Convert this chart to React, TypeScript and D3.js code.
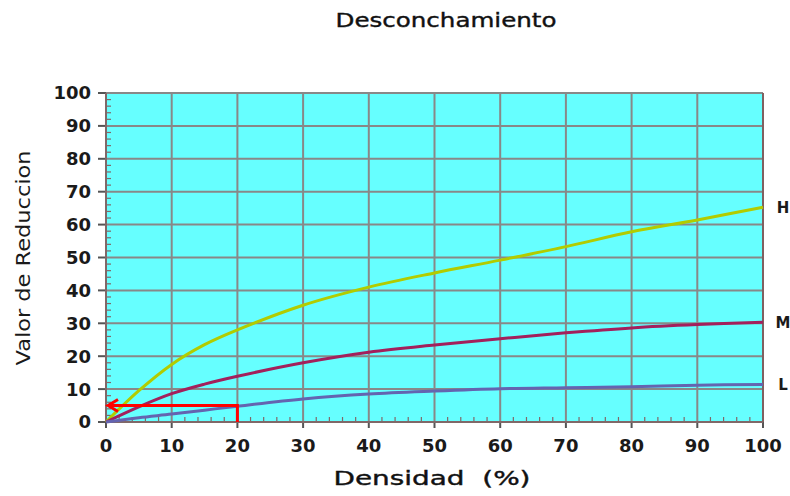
import React from "react";
import * as d3 from "d3";

const xValues = [0, 5, 10, 15, 20, 30, 40, 50, 60, 70, 80, 90, 100];
const seriesH = [0, 9.5, 17.5, 23.5, 28, 35.5, 41, 45.3, 49.2, 53.3, 57.8, 61.4, 65.3];
const seriesM = [0, 4.6, 8.6, 11.5, 13.9, 18, 21.2, 23.4, 25.3, 27.1, 28.6, 29.6, 30.3];
const seriesL = [0, 1.3, 2.4, 3.6, 4.8, 7, 8.5, 9.4, 10.1, 10.4, 10.7, 11.2, 11.4];
const seriesNames = ["H", "M", "L"];
const seriesColors = ["#b2cc00", "#a3205c", "#6464b0"];
const tickValues = [0, 10, 20, 30, 40, 50, 60, 70, 80, 90, 100];
const arrowX = 20;
const arrowY = 5;

const W = 790;
const H = 496;
const left = 106;
const right = 763;
const top = 93;
const bottom = 422;

export default function App() {
  const x = d3.scaleLinear().domain([0, 100]).range([left, right]);
  const y = d3.scaleLinear().domain([0, 100]).range([bottom, top]);
  const line = d3
    .line<[number, number]>()
    .x((d) => x(d[0]))
    .y((d) => y(d[1]))
    .curve(d3.curveCatmullRom.alpha(0.5));
  const all = [seriesH, seriesM, seriesL];
  const minor = d3.range(0, 101, 2).filter((v) => v % 10 !== 0);
  const font = "DejaVu Sans, Verdana, sans-serif";
  return (
    <svg
      width={W}
      height={H}
      style={{ position: "absolute", left: 0, top: 0, background: "#fff" }}
      fontFamily={font}
    >
      <rect x={left} y={top} width={right - left} height={bottom - top} fill="#66ffff" />
      {tickValues.map((t) => (
        <line key={"gx" + t} x1={x(t)} x2={x(t)} y1={top} y2={bottom} stroke="#888" strokeWidth={2} />
      ))}
      {tickValues.map((t) => (
        <line key={"gy" + t} x1={left} x2={right} y1={y(t)} y2={y(t)} stroke="#888" strokeWidth={2} />
      ))}
      {minor.map((t) => (
        <line key={"my" + t} x1={left} x2={left + 5} y1={y(t)} y2={y(t)} stroke="#806868" strokeWidth={1.2} />
      ))}
      {minor.map((t) => (
        <line key={"mx" + t} x1={x(t)} x2={x(t)} y1={bottom} y2={bottom - 5} stroke="#806868" strokeWidth={1.2} />
      ))}
      {tickValues.map((t) => (
        <line key={"ty" + t} x1={left - 8} x2={left} y1={y(t)} y2={y(t)} stroke="#555" strokeWidth={2} />
      ))}
      {tickValues.map((t) => (
        <line key={"tx" + t} x1={x(t)} x2={x(t)} y1={bottom} y2={bottom + 6} stroke="#555" strokeWidth={2} />
      ))}
      <line x1={left} x2={left} y1={top} y2={bottom} stroke="#806868" strokeWidth={2} />
      <line x1={left} x2={right} y1={bottom} y2={bottom} stroke="#806868" strokeWidth={2} />
      <line x1={right} x2={right} y1={top} y2={bottom} stroke="#806060" strokeWidth={2} />

      {all.map((s, i) => (
        <path
          key={"s" + i}
          d={line(xValues.map((v, j) => [v, s[j]] as [number, number])) || ""}
          fill="none"
          stroke={seriesColors[i]}
          strokeWidth={3}
        />
      ))}

      <path
        d={`M${x(arrowX)},${y(0)} L${x(arrowX)},${y(arrowY)} L${x(0) + 2},${y(arrowY)}`}
        fill="none"
        stroke="#ff0000"
        strokeWidth={3}
      />
      <path
        d={`M${x(0) + 12},${y(arrowY) - 6} L${x(0) + 2},${y(arrowY)} L${x(0) + 12},${y(arrowY) + 6}`}
        fill="none"
        stroke="#ff0000"
        strokeWidth={3}
      />

      {tickValues.map((t) => (
        <text
          key={"ly" + t}
          x={91}
          y={y(t)}
          dy="0.36em"
          textAnchor="end"
          fontSize={18}
          fontWeight="bold"
          fill="#1a1a1a"
        >
          {t}
        </text>
      ))}
      {tickValues.map((t) => (
        <text
          key={"lx" + t}
          x={x(t)}
          y={446}
          dy="0.36em"
          textAnchor="middle"
          fontSize={18}
          fontWeight="bold"
          fill="#1a1a1a"
        >
          {t}
        </text>
      ))}
      {seriesNames.map((n, i) => (
        <text
          key={"n" + n}
          x={783}
          y={y(all[i][all[i].length - 1])}
          dy="0.36em"
          textAnchor="middle"
          fontSize={15}
          fontWeight="bold"
          fill="#1a1a1a"
        >
          {n}
        </text>
      ))}
      <text x={446} y={20} dy="0.36em" textAnchor="middle" fontSize={20} fill="#111" stroke="#111" strokeWidth={0.4} textLength={221} lengthAdjust="spacingAndGlyphs">
        Desconchamiento
      </text>
      <text x={432} y={478} dy="0.36em" textAnchor="middle" fontSize={20} fill="#111" stroke="#111" strokeWidth={0.4} textLength={197} lengthAdjust="spacingAndGlyphs" style={{ whiteSpace: "pre" }}>
        {"Densidad  (%)"}
      </text>
      <text
        transform={`translate(23,258) rotate(-90)`}
        dy="0.36em"
        textAnchor="middle"
        fontSize={20}
        fill="#1a1a1a"
        textLength={215}
        lengthAdjust="spacingAndGlyphs"
      >
        Valor de Reduccion
      </text>
    </svg>
  );
}
